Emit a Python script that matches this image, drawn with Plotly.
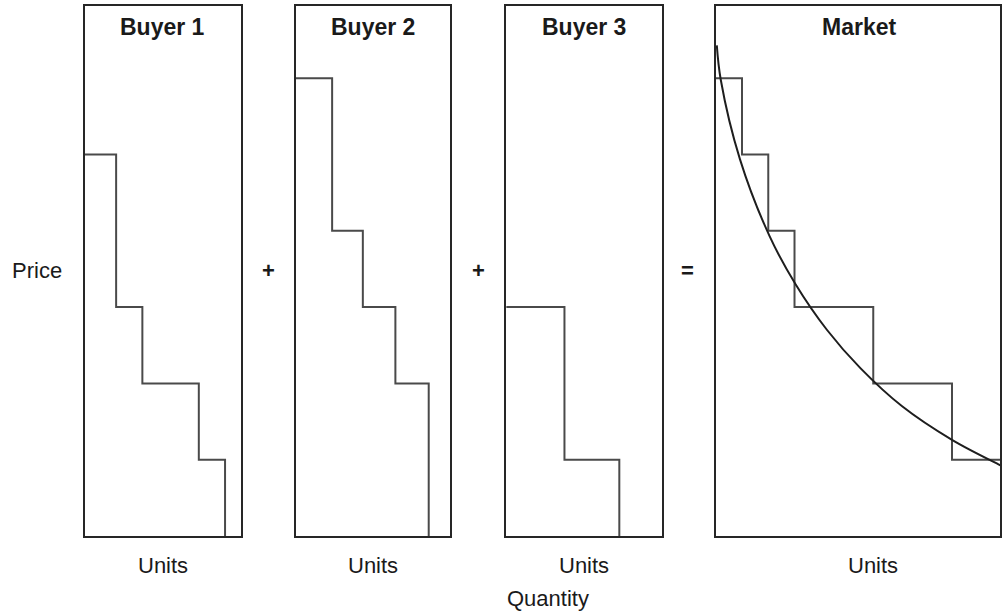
import plotly.graph_objects as go

# ---- data ----
panel_titles = ["Buyer 1", "Buyer 2", "Buyer 3", "Market"]

# cumulative quantity at which each price step ends, and the price level of the step
buyer1_qty = [1.2, 2.2, 4.35, 5.35]
buyer1_price = [5, 3, 2, 1]

buyer2_qty = [1.38, 2.55, 3.79, 5.06]
buyer2_price = [6, 4, 3, 2]

buyer3_qty = [2.22, 4.31]
buyer3_price = [3, 1]

market_qty = [1, 2, 3, 6, 9, 11]
market_price = [6, 5, 4, 3, 2, 1]

# smooth market demand curve
curve_qty = [0.04, 0.19, 0.92, 2.05, 3.04, 4.24, 5.51, 7.10, 9.00, 10.77, 11.2]
curve_price = [6.43, 5.98, 4.94, 3.93, 3.30, 2.70, 2.20, 1.70, 1.26, 0.94, 0.87]

axis_label = "Units"
price_label = "Price"
quantity_label = "Quantity"
operators = ["+", "+", "="]

# ---- layout geometry ----
W, H = 1002, 613
panel_px = [(84.8, 241.0), (296.5, 451.0), (507.2, 663.3), (717.2, 1002.0)]
top_px, bottom_px = 6.0, 536.0
px_per_unit_x = 26.3
px_per_unit_y = 76.3

border = "#262626"
step_col = "#4a4a4a"

fig = go.Figure()

series = [
    (buyer1_qty, buyer1_price),
    (buyer2_qty, buyer2_price),
    (buyer3_qty, buyer3_price),
    (market_qty, market_price),
]

for i, (q, p) in enumerate(series):
    xa = "x" if i == 0 else f"x{i+1}"
    ya = "y" if i == 0 else f"y{i+1}"
    fig.add_trace(go.Scatter(
        x=[0] + list(q), y=list(p) + [0], mode="lines",
        line=dict(shape="hv", color=step_col, width=2),
        xaxis=xa, yaxis=ya, showlegend=False, hoverinfo="skip",
    ))

fig.add_trace(go.Scatter(
    x=curve_qty, y=curve_price, mode="lines",
    line=dict(shape="spline", smoothing=1.0, color="#1e1e1e", width=2),
    xaxis="x4", yaxis="y4", showlegend=False, hoverinfo="skip",
))

y_dom = [(H - bottom_px) / H, (H - top_px) / H]
y_range = [0, (bottom_px - top_px) / px_per_unit_y]

layout = dict(
    width=W, height=H,
    margin=dict(l=0, r=0, t=0, b=0),
    paper_bgcolor="white", plot_bgcolor="white",
    hovermode=False,
)

for i, (l, r) in enumerate(panel_px):
    xkey = "xaxis" if i == 0 else f"xaxis{i+1}"
    ykey = "yaxis" if i == 0 else f"yaxis{i+1}"
    ylink = "y" if i == 0 else f"y{i+1}"
    xlink = "x" if i == 0 else f"x{i+1}"
    common = dict(showticklabels=False, showgrid=False, zeroline=False, ticks="",
                  showline=True, mirror=True, linecolor=border, linewidth=2, fixedrange=True)
    layout[xkey] = dict(domain=[l / W, r / W], range=[0, (r - l) / px_per_unit_x],
                        anchor=ylink, **common)
    layout[ykey] = dict(domain=y_dom, range=y_range, anchor=xlink, **common)

fig.update_layout(**layout)

font_main = "Liberation Sans, Arial, Helvetica, sans-serif"

def ann(text, xpx, ypx, size=22, bold=False):
    fig.add_annotation(
        text=f"<b>{text}</b>" if bold else text,
        x=xpx / W, y=1 - ypx / H, xref="paper", yref="paper",
        xanchor="center", yanchor="middle", showarrow=False,
        font=dict(family=font_main, size=size, color="#1a1a1a"),
    )

for i, (l, r) in enumerate(panel_px):
    cx = (l + r) / 2 if i < 3 else 861
    ann(panel_titles[i], cx, 27, size=23, bold=True)
    ann(axis_label, (l + r) / 2 if i < 3 else 875, 565, size=22)

ann(price_label, 37, 270, size=22)
for x, t in zip([269, 479, 689], operators):
    ann(t, x, 270, size=22, bold=True)
ann(quantity_label, 549, 598, size=22)

fig.write_html("out.html", config={"displayModeBar": False},
               post_script="document.body.style.margin='0px';")
